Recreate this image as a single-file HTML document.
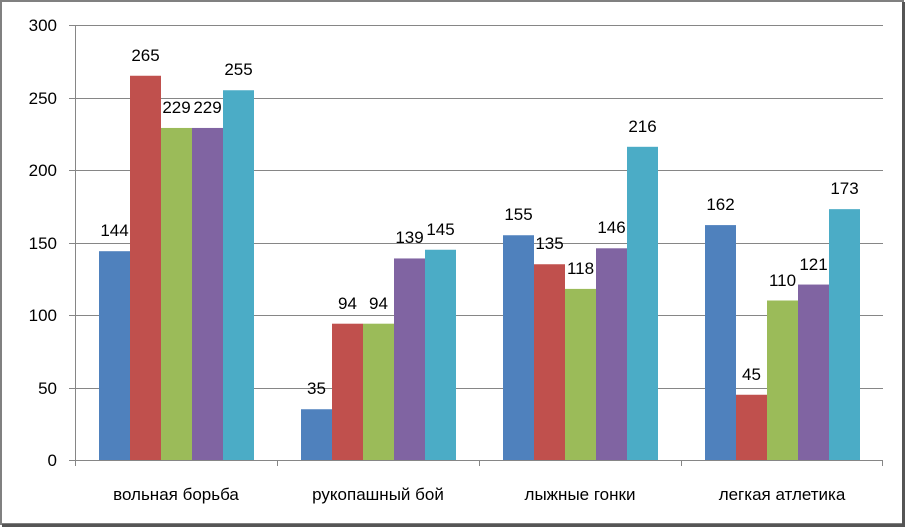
<!DOCTYPE html>
<html><head><meta charset="utf-8"><style>
html,body{margin:0;padding:0;background:#fff}
svg{display:block}
text{font-family:"Liberation Sans",sans-serif;font-size:17px;fill:#000}
</style></head><body>
<svg width="906" height="528" xmlns="http://www.w3.org/2000/svg">
<rect x="0" y="0" width="906" height="528" fill="#fff"/>
<rect x="1" y="1" width="902" height="523" fill="none" stroke="#808080" stroke-width="2"/>
<line x1="903.5" y1="2" x2="903.5" y2="526" stroke="#555" stroke-width="3"/>
<line x1="2" y1="525.5" x2="905" y2="525.5" stroke="#555" stroke-width="3"/>
<g stroke="#868686" stroke-width="1">
<line x1="69" y1="25.5" x2="883" y2="25.5"/>
<line x1="69" y1="98.5" x2="883" y2="98.5"/>
<line x1="69" y1="170.5" x2="883" y2="170.5"/>
<line x1="69" y1="243.5" x2="883" y2="243.5"/>
<line x1="69" y1="315.5" x2="883" y2="315.5"/>
<line x1="69" y1="388.5" x2="883" y2="388.5"/>
<line x1="69" y1="460.5" x2="883" y2="460.5"/>
<line x1="75.5" y1="25" x2="75.5" y2="461"/>
<line x1="75.5" y1="460" x2="75.5" y2="466"/>
<line x1="277.5" y1="460" x2="277.5" y2="466"/>
<line x1="479.5" y1="460" x2="479.5" y2="466"/>
<line x1="681.5" y1="460" x2="681.5" y2="466"/>
<line x1="882.5" y1="460" x2="882.5" y2="466"/>
</g>
<g text-anchor="end">
<text x="57" y="31">300</text><text x="57" y="104">250</text><text x="57" y="176">200</text>
<text x="57" y="249">150</text><text x="57" y="321">100</text><text x="57" y="394">50</text><text x="57" y="466">0</text>
</g>
<g>
<rect x="99" y="251.2" width="31" height="208.8" fill="#4f81bd"/>
<rect x="130" y="75.75" width="31" height="384.25" fill="#c0504d"/>
<rect x="161" y="127.95" width="31" height="332.05" fill="#9bbb59"/>
<rect x="192" y="127.95" width="31" height="332.05" fill="#8064a2"/>
<rect x="223" y="90.25" width="31" height="369.75" fill="#4bacc6"/>
<rect x="301" y="409.25" width="31" height="50.75" fill="#4f81bd"/>
<rect x="332" y="323.7" width="31" height="136.3" fill="#c0504d"/>
<rect x="363" y="323.7" width="31" height="136.3" fill="#9bbb59"/>
<rect x="394" y="258.45" width="31" height="201.55" fill="#8064a2"/>
<rect x="425" y="249.75" width="31" height="210.25" fill="#4bacc6"/>
<rect x="503" y="235.25" width="31" height="224.75" fill="#4f81bd"/>
<rect x="534" y="264.25" width="31" height="195.75" fill="#c0504d"/>
<rect x="565" y="288.9" width="31" height="171.1" fill="#9bbb59"/>
<rect x="596" y="248.3" width="31" height="211.7" fill="#8064a2"/>
<rect x="627" y="146.8" width="31" height="313.2" fill="#4bacc6"/>
<rect x="705" y="225.1" width="31" height="234.9" fill="#4f81bd"/>
<rect x="736" y="394.75" width="31" height="65.25" fill="#c0504d"/>
<rect x="767" y="300.5" width="31" height="159.5" fill="#9bbb59"/>
<rect x="798" y="284.55" width="31" height="175.45" fill="#8064a2"/>
<rect x="829" y="209.15" width="31" height="250.85" fill="#4bacc6"/>
</g>
<g text-anchor="middle">
<text x="114.5" y="236">144</text>
<text x="145.5" y="61">265</text>
<text x="176.5" y="113">229</text>
<text x="207.5" y="113">229</text>
<text x="238.5" y="75">255</text>
<text x="316.5" y="394">35</text>
<text x="347.5" y="309">94</text>
<text x="378.5" y="309">94</text>
<text x="409.5" y="243">139</text>
<text x="440.5" y="235">145</text>
<text x="518.5" y="220">155</text>
<text x="549.5" y="249">135</text>
<text x="580.5" y="274">118</text>
<text x="611.5" y="233">146</text>
<text x="642.5" y="132">216</text>
<text x="720.5" y="210">162</text>
<text x="751.5" y="380">45</text>
<text x="782.5" y="286">110</text>
<text x="813.5" y="270">121</text>
<text x="844.5" y="194">173</text>
</g>
<g text-anchor="middle">
<text x="176" y="500">вольная борьба</text>
<text x="378" y="500">рукопашный бой</text>
<text x="580" y="500">лыжные гонки</text>
<text x="782" y="500">легкая атлетика</text>
</g>
</svg>
</body></html>
